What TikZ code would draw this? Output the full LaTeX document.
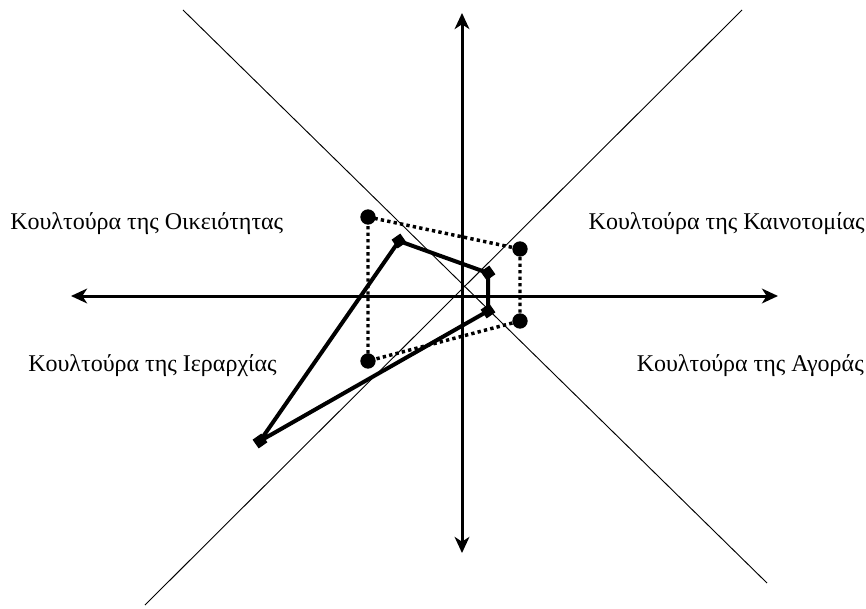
\documentclass[tikz,border=0pt]{standalone}
\usepackage{fontspec}
\setmainfont{Liberation Serif}
\usetikzlibrary{arrows.meta}
\tikzset{
  axisline/.style={line width=2.25pt,{Stealth[length=12pt,width=11pt,inset=3.5pt]}-{Stealth[length=12pt,width=11pt,inset=3.5pt]}},
  diagline/.style={line width=0.7pt},
  dotline/.style={line width=2.6pt,dash pattern=on 2.5pt off 2.4pt},
  solidline/.style={line width=3pt,line join=round},
  dotmark/.style={circle,fill=black,inner sep=0pt,minimum size=11.5pt},
  sqmark/.style={rectangle,fill=black,inner sep=0pt,minimum size=8pt,rotate=35},
  lbl/.style={font=\fontsize{18pt}{20pt}\selectfont,inner sep=0pt}
}
\begin{document}
\begin{tikzpicture}[x=0.75pt,y=-0.75pt]
\useasboundingbox (0,0) rectangle (866,609);
% diagonals
\coordinate (d1a) at (183,10);
\coordinate (d1b) at (767,583);
\coordinate (d2a) at (145,605);
\coordinate (d2b) at (742,10);
\draw[diagline] (d1a) -- (d1b);
\draw[diagline] (d2a) -- (d2b);
% axes
\coordinate (xl) at (71,296);
\coordinate (xr) at (778,296);
\coordinate (yt) at (462,13);
\coordinate (yb) at (462,553);
\draw[axisline] (xl) -- (xr);
\draw[axisline] (yb) -- (yt);
% dotted quadrilateral
\node[dotmark] (c1) at (368,217) {};
\node[dotmark] (c2) at (520,249) {};
\node[dotmark] (c3) at (520,321) {};
\node[dotmark] (c4) at (368,361) {};
\draw[dotline] (c1.center) -- (c2.center) -- (c3.center) -- (c4.center) -- (c1.center);
% solid polygon
\node[sqmark] (s1) at (399,241) {};
\node[sqmark] (s2) at (488,273) {};
\node[sqmark] (s3) at (488,311) {};
\node[sqmark] (s4) at (260,441) {};
\draw[solidline] (s1.center) -- (s2.center) -- (s3.center) -- (s4.center) -- cycle;
% labels
\node[lbl,anchor=base west] (t1) at (10,230) {Κουλτούρα της Οικειότητας};
\node[lbl,anchor=base east] (t2) at (865,230) {Κουλτούρα της Καινοτομίας};
\node[lbl,anchor=base west] (t3) at (28,371) {Κουλτούρα της Ιεραρχίας};
\node[lbl,anchor=base east] (t4) at (864,371) {Κουλτούρα της Αγοράς};
\end{tikzpicture}
\end{document}
